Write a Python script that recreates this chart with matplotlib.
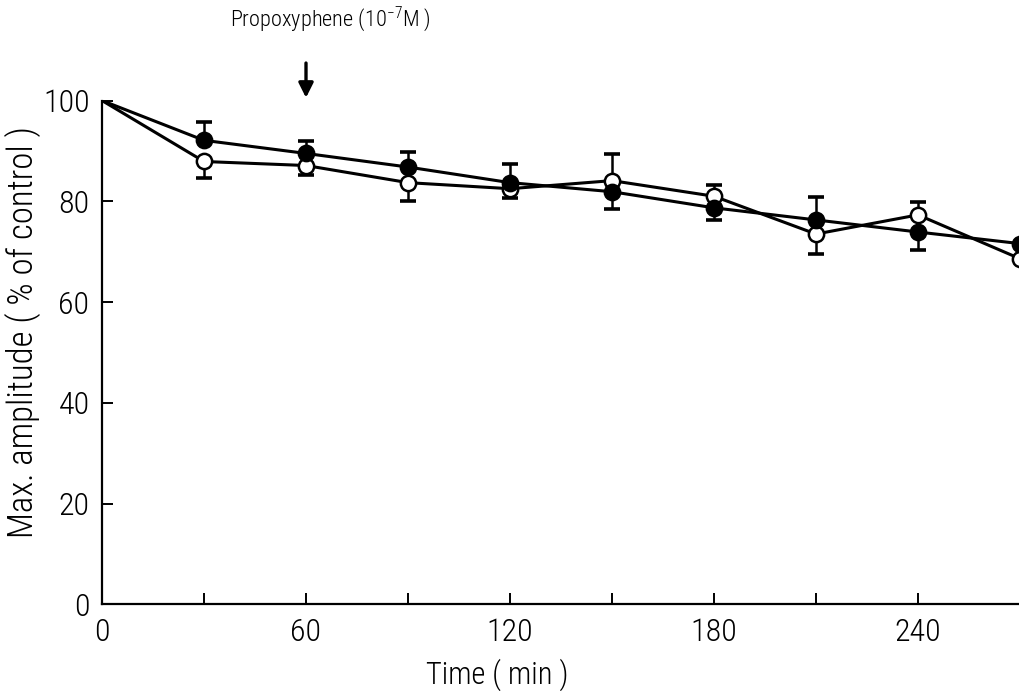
import matplotlib
matplotlib.use("Agg")
import matplotlib.pyplot as plt

plt.rcParams['font.family'] = ['Roboto Condensed', 'DejaVu Sans']
plt.rcParams['font.weight'] = 'light'
plt.rcParams['axes.labelweight'] = 'light'
plt.rcParams['mathtext.fontset'] = 'custom'
plt.rcParams['mathtext.rm'] = 'Roboto Condensed:light'

# time points (min)
time = [0, 30, 60, 90, 120, 150, 180, 210, 240, 270]

# filled circles
filled = [100, 92.1, 89.5, 86.8, 83.7, 81.9, 78.7, 76.3, 73.9, 71.6]
filled_up = [0, 3.6, 2.4, 3.0, 3.7, 0, 0, 4.5, 0, 0]
filled_lo = [0, 0, 0, 0, 0, 3.4, 2.4, 0, 3.5, 0]

# open circles
opened = [100, 87.9, 87.1, 83.7, 82.5, 84.1, 81.0, 73.5, 77.3, 68.6]
opened_up = [0, 0, 0, 0, 0, 5.3, 2.2, 0, 2.5, 0]
opened_lo = [0, 3.2, 1.8, 3.7, 1.8, 0, 0, 4.0, 0, 0]

xticks = [0, 60, 120, 180, 240]
yticks = [0, 20, 40, 60, 80, 100]

fig = plt.figure(figsize=(10.2, 6.91), dpi=100)
ax = fig.add_axes([0.1, 0.1255, 0.9, 0.729])

for y, lo, up, face in [(opened, opened_lo, opened_up, 'white'),
                        (filled, filled_lo, filled_up, 'black')]:
    ax.errorbar(time[1:], y[1:], yerr=[lo[1:], up[1:]], fmt='none',
                ecolor='black', elinewidth=1.8, capsize=5.5, capthick=2.6,
                zorder=2)
    ax.plot(time, y, color='black', lw=2.2, marker='o', markersize=11,
            markerfacecolor=face, markeredgecolor='black',
            markeredgewidth=1.8, markevery=list(range(1, len(time))),
            zorder=3)

ax.set_xlim(0, 270)
ax.set_ylim(0, 100)
ax.set_xticks(range(0, 271, 30))
ax.set_xticklabels([str(t) if t in xticks else '' for t in range(0, 271, 30)])
ax.set_yticks(yticks)
ax.tick_params(direction='in', length=8, width=1.4, labelsize=23)
ax.tick_params(axis='x', pad=10)
ax.tick_params(axis='y', pad=9)
for s in ['top', 'right']:
    ax.spines[s].set_visible(False)
for s in ['left', 'bottom']:
    ax.spines[s].set_linewidth(1.6)

ax.set_xlabel('Time ( min )', fontsize=22, fontweight='light')
ax.xaxis.set_label_coords(0.431, -0.108)
ax.set_ylabel('Max. amplitude ( % of control )', fontsize=25,
              fontweight='light')
ax.yaxis.set_label_coords(-0.066, 0.54)

# drug addition marker
ax.annotate('', xy=(60, 100), xytext=(60, 108), annotation_clip=False,
            arrowprops=dict(arrowstyle='-|>', color='black', lw=2.4,
                            mutation_scale=22))
fig.text(0.324, 0.972, 'Propoxyphene (10$^{-7}$M )', fontsize=16,
         ha='center', va='center')

fig.savefig('out.png', dpi=100)
